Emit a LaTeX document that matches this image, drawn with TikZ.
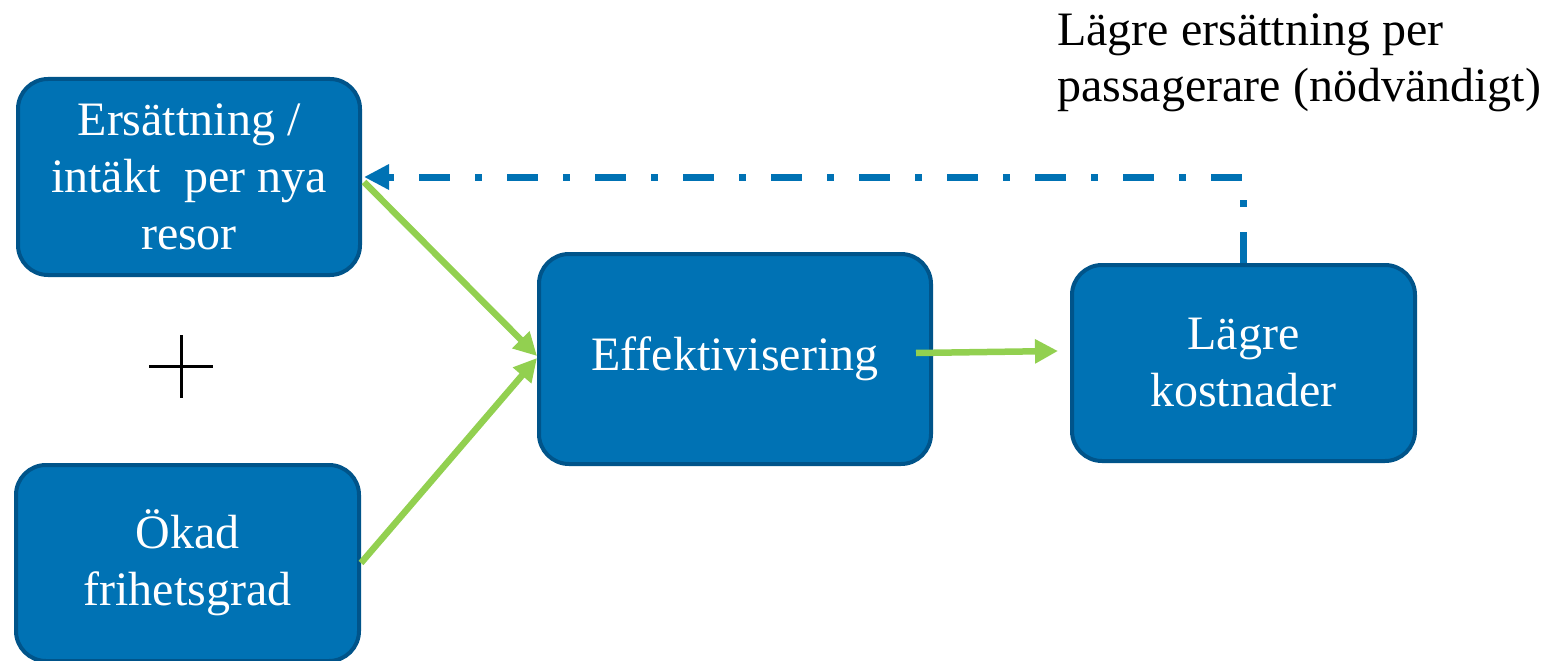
\documentclass[tikz,border=0pt]{standalone}
\usepackage{fontspec}
\setmainfont{Liberation Serif}
\usetikzlibrary{arrows.meta,calc}
\definecolor{boxfill}{RGB}{0,114,180}
\definecolor{boxline}{RGB}{0,84,138}
\definecolor{arrgreen}{RGB}{146,208,80}
\tikzset{
  box/.style={draw=boxline, fill=boxfill, line width=4pt, rounded corners=30pt,
    text=white, align=center, inner sep=0pt,
    font=\fontsize{48}{57}\selectfont},
  garrow/.style={draw=arrgreen, line width=6.5pt, -{Triangle[length=23pt,width=23pt]}},
  darrow/.style={draw=boxfill, line width=7pt, dash pattern=on 31pt off 25pt on 7pt off 25pt,
    -{Triangle[length=25pt,width=24pt]}},
}
\begin{document}
\begin{tikzpicture}[x=1pt,y=-1pt]
\useasboundingbox (0,0) rectangle (1553,661);
\begin{scope}
\clip (0,0) rectangle (1553,661);
\node[box, minimum width=342pt, minimum height=196pt] (top) at (189,177) {Ersättning /\\intäkt\ \ per nya\\resor};
\node[box, minimum width=343pt, minimum height=196pt] (bot) at (187.5,563) {Ökad\\frihetsgrad};
\node[box, minimum width=392pt, minimum height=210pt] (mid) at (735,359) {Effektivisering};
\node[box, minimum width=343pt, minimum height=196pt] (rgt) at (1243.5,363) {Lägre\\kostnader};
\end{scope}
\coordinate (plc) at (181,366);
\draw[line width=3pt] ($(plc)+(-32,0)$) -- ($(plc)+(32,0)$);
\draw[line width=3pt] ($(plc)+(0,-31)$) -- ($(plc)+(0,32)$);
\node[anchor=base west, align=left, inner sep=0pt, font=\fontsize{48}{55}\selectfont] (lbl) at (1057,101) {Lägre ersättning per\\passagerare (nödvändigt)};
\draw[garrow] ($(top.east)+(2,5)$) -- ($(mid.west)+(0,-3)$);
\draw[garrow] ($(bot.east)+(0,0)$) -- ($(mid.west)+(0,-1)$);
\draw[garrow] ($(mid.east)+(-17,-6)$) -- ($(rgt.west)+(-12,-12)$);
\draw[darrow] (rgt.north) -- (rgt.north |- top.east) -- ($(top.east)+(2,0)$);
\end{tikzpicture}
\end{document}
